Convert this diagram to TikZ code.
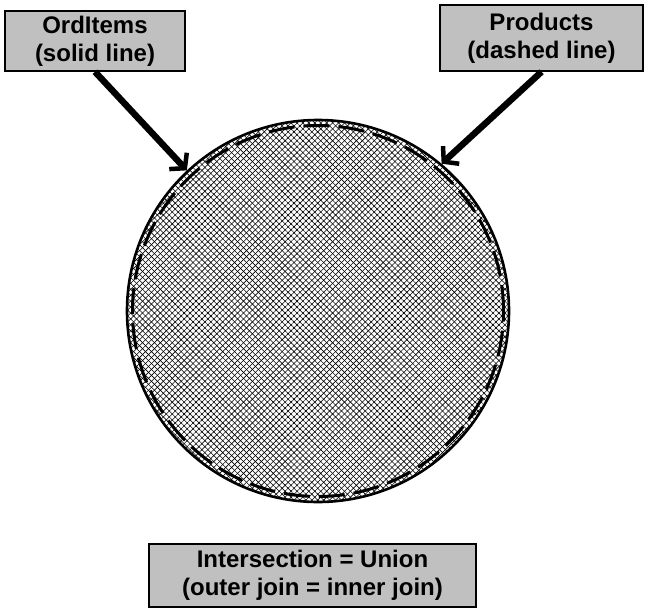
\documentclass[tikz,border=0pt]{standalone}
\usepackage{fontspec}
\setmainfont{Liberation Sans}
\usetikzlibrary{arrows.meta,patterns.meta}
\definecolor{boxgray}{HTML}{C0C0C0}
\tikzset{
  label box/.style={draw=black, line width=1.6pt, fill=boxgray, inner sep=0pt,
    font=\bfseries\fontsize{24}{28}\selectfont, align=center},
  pointer/.style={line width=6.5pt, -{Straight Barb[length=10pt,width=24pt,line width=4.5pt]}},
}
\begin{document}
\begin{tikzpicture}[x=1pt,y=-1pt]
\useasboundingbox (0,0) rectangle (648,610);
% circle outline (solid, OrdItems)
\node[circle, draw=black, line width=2.6pt, minimum size=382pt, inner sep=0pt] (circ) at (318,311) {};
% hatch fill
\fill[pattern={Lines[angle=45,distance=4.2pt,line width=0.6pt]}] (318,311) circle[radius=190];
\fill[pattern={Lines[angle=-45,distance=4.2pt,line width=0.6pt]}] (318,311) circle[radius=190];
% dashed circle (Products)
\node[circle, draw=black, line width=3pt, dash pattern=on 26pt off 9pt, minimum size=371pt, inner sep=0pt] (dcirc) at (318,311) {};
% boxes
\node[label box, minimum width=180pt, minimum height=60pt] (ord) at (95,41) {OrdItems\\(solid line)};
\node[label box, minimum width=203pt, minimum height=66pt] (prod) at (541.5,38) {Products\\(dashed line)};
\node[label box, minimum width=327pt, minimum height=63pt] (res) at (312.5,575.5) {Intersection = Union\\(outer join = inner join)};
% pointers
\draw[pointer] (ord.south) -- (circ.133);
\draw[pointer] (prod.south) -- (circ.50);
\end{tikzpicture}
\end{document}
